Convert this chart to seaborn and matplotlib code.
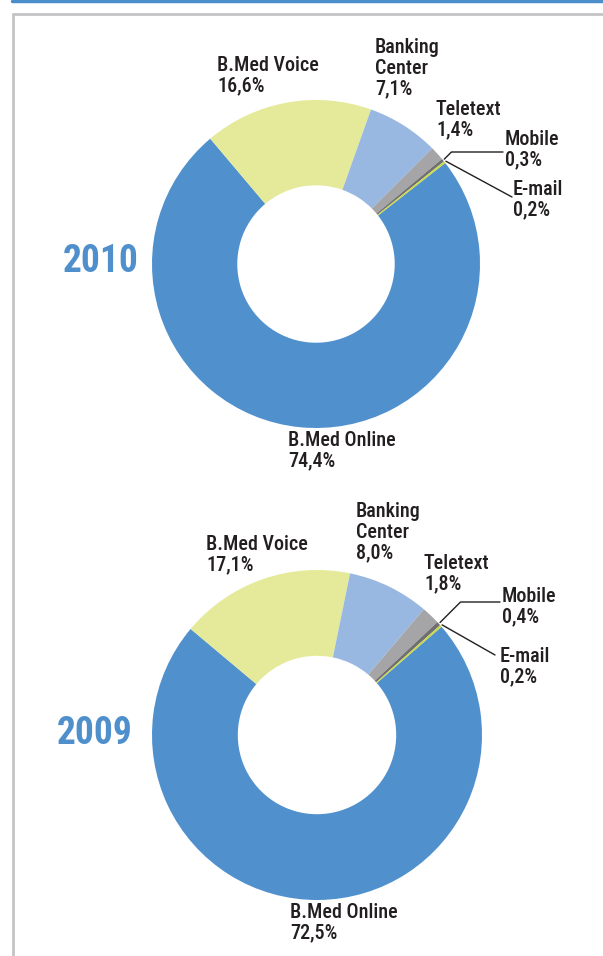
import numpy as np
import matplotlib
matplotlib.use("Agg")
import matplotlib.pyplot as plt
import seaborn as sns
from matplotlib.lines import Line2D

# Data
channels = ["B.Med Online", "B.Med Voice", "Banking\nCenter", "Teletext", "Mobile", "E-mail"]
share_2010 = [74.4, 16.6, 7.1, 1.4, 0.3, 0.2]
share_2009 = [72.5, 17.1, 8.0, 1.8, 0.4, 0.2]
years = ["2010", "2009"]

colors = sns.color_palette(["#5091CD", "#E4EA99", "#99B8E1", "#A5A5A7", "#6F6F71", "#CBD845"])
text_col = "#231F20"
year_col = "#4F8FCC"

sns.set_style("white")
plt.rcParams["font.family"] = ["Roboto Condensed", "Roboto", "DejaVu Sans"]

W, H = 603, 956
fig = plt.figure(figsize=(W / 100, H / 100), dpi=100)


def px(x, y):
    return (x / W, 1 - y / H)


def fmt(v):
    return f"{v:.1f}".replace(".", ",") + "%"


# layout per chart: center, radius, start angle, label positions (px), year label pos
layouts = [
    dict(cx=316, cy=264, r=164, start=38,
         labels=[(288, 431), (217, 56), (375, 38), (436, 100), (505, 130), (513, 180)],
         year=(63, 262), mobile_end=(503, 152), email_end=(512, 197)),
    dict(cx=317, cy=735, r=165, start=41,
         labels=[(290, 903), (206, 535), (356, 502), (424, 554), (502, 587), (500, 647)],
         year=(57, 733), mobile_end=(500, 602), email_end=(495, 655)),
]

for values, year, lay in zip([share_2010, share_2009], years, layouts):
    cx, cy, r = lay["cx"], lay["cy"], lay["r"]
    ax = fig.add_axes([(cx - r) / W, 1 - (cy + r) / H, 2 * r / W, 2 * r / H])
    wedges, _ = ax.pie(values, colors=colors, startangle=lay["start"], counterclock=False,
                       radius=1, wedgeprops=dict(width=0.52, linewidth=0))
    ax.set_xlim(-1, 1)
    ax.set_ylim(-1, 1)
    ax.set_aspect("equal")
    ax.axis("off")

    for name, v, (lx, ly) in zip(channels, values, lay["labels"]):
        fig.text(*px(lx, ly), f"{name}\n{fmt(v)}", ha="left", va="top",
                 fontsize=14.5, fontweight="medium", color=text_col, linespacing=1.12)

    fig.text(*px(*lay["year"]), year, ha="left", va="center", fontsize=27,
             fontweight="bold", color=year_col)

    # leader lines for the thin slices
    for idx, end, style in [(4, lay["mobile_end"], "angle,angleA=0,angleB=45,rad=0"),
                            (5, lay["email_end"], "arc3")]:
        w = wedges[idx]
        mid = np.deg2rad((w.theta1 + w.theta2) / 2)
        ax.annotate("", xy=(1.01 * np.cos(mid), 1.01 * np.sin(mid)), xycoords="data",
                    xytext=px(*end), textcoords="figure fraction",
                    arrowprops=dict(arrowstyle="-", color=text_col, lw=1.0,
                                    shrinkA=0, shrinkB=0, connectionstyle=style),
                    annotation_clip=False)

# page frame
fig.add_artist(Line2D([12 / W, 1], [1 - 1 / H, 1 - 1 / H], color="#4A8ECB", lw=2.5))
fig.add_artist(Line2D([13 / W, 13 / W], [0, 1 - 14 / H], color="#C4C4C6", lw=2))
fig.add_artist(Line2D([13 / W, 1], [1 - 14 / H, 1 - 14 / H], color="#C4C4C6", lw=2))

fig.savefig("out.png", dpi=100)
